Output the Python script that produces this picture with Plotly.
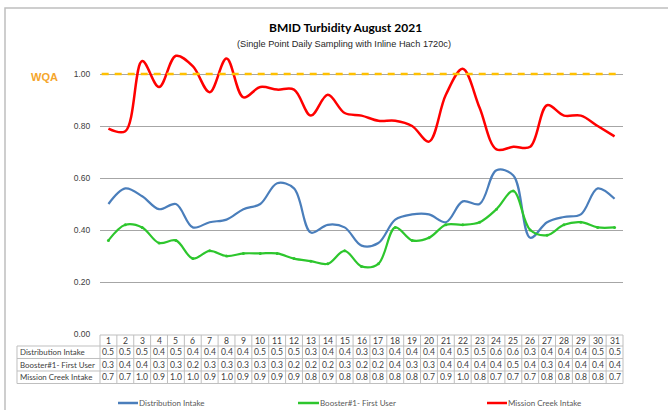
import math
import plotly.graph_objects as go

days = list(range(1, 32))
distribution = [0.50, 0.56, 0.53, 0.48, 0.50, 0.41, 0.43, 0.44, 0.48, 0.50,
                0.58, 0.56, 0.39, 0.42, 0.41, 0.34, 0.35, 0.44, 0.46, 0.46,
                0.43, 0.51, 0.50, 0.63, 0.61, 0.37, 0.43, 0.45, 0.46, 0.56, 0.52]
booster = [0.36, 0.42, 0.41, 0.35, 0.36, 0.29, 0.32, 0.30, 0.31, 0.31,
           0.31, 0.29, 0.28, 0.27, 0.32, 0.26, 0.27, 0.41, 0.36, 0.37,
           0.42, 0.42, 0.43, 0.48, 0.55, 0.40, 0.38, 0.42, 0.43, 0.41, 0.41]
mission = [0.79, 0.78, 1.05, 0.95, 1.07, 1.03, 0.93, 1.06, 0.91, 0.95,
           0.94, 0.94, 0.84, 0.92, 0.85, 0.84, 0.82, 0.82, 0.80, 0.74,
           0.92, 1.02, 0.87, 0.71, 0.72, 0.72, 0.88, 0.84, 0.84, 0.80, 0.76]
wqa_limit = 1.0
series_names = ["Distribution Intake", "Booster#1- First User", "Mission Creek Intake"]
y_ticks = [0.0, 0.2, 0.4, 0.6, 0.8, 1.0]

BLUE = "#4A7EBB"
GREEN = "#2DC62D"
RED = "#FF0000"
GOLD = "#FFC000"
GRID = "#A6A6A6"
TXT = "#404040"

# plot area in pixels
L, R, T, B = 100, 623, 48, 334
W, H = 668, 410


def px(xp):
    return (xp - L) / (R - L)


def py(yp):
    return (B - yp) / (B - T)


fig = go.Figure()

fig.add_trace(go.Scatter(x=days, y=distribution, mode="lines", name=series_names[0],
                         line=dict(color=BLUE, width=2.2, shape="spline", smoothing=1)))
fig.add_trace(go.Scatter(x=days, y=booster, mode="lines+markers", name=series_names[1],
                         line=dict(color=GREEN, width=2.2, shape="spline", smoothing=1),
                         marker=dict(size=3, color=GREEN)))
fig.add_trace(go.Scatter(x=days, y=mission, mode="lines", name=series_names[2],
                         line=dict(color=RED, width=2.5, shape="spline", smoothing=1)))
fig.add_trace(go.Scatter(x=[0.6, 31.3], y=[wqa_limit, wqa_limit], mode="lines",
                         line=dict(color=GOLD, width=2.5, dash="7px,6px"),
                         showlegend=False, hoverinfo="skip"))

shapes = []
annotations = []

# outer border
shapes.append(dict(type="rect", xref="paper", yref="paper",
                   x0=px(5), x1=px(720), y0=py(440), y1=py(8),
                   line=dict(color="#BFBFBF", width=1.5), layer="below"))

# table grid as one path
tcol = "#BFBFBF"
h_lines = [335, 346, 358.5, 371, 383.5]
cw = (R - L) / 31
segs = []
for i, yl in enumerate(h_lines):
    x0 = L if i == 0 else 17
    segs.append(f"M{px(x0):.5f},{py(yl):.5f} L{px(R):.5f},{py(yl):.5f}")
segs.append(f"M{px(17):.5f},{py(346):.5f} L{px(17):.5f},{py(383.5):.5f}")
for k in range(32):
    xl = L + k * cw
    segs.append(f"M{px(xl):.5f},{py(335):.5f} L{px(xl):.5f},{py(383.5):.5f}")
shapes.append(dict(type="path", xref="paper", yref="paper", path=" ".join(segs),
                   line=dict(color=tcol, width=1), layer="below"))

nfont = dict(family="Lato, Liberation Sans", size=8.6, color=TXT)
labfont = dict(family="Lato, Liberation Sans", size=7.9, color=TXT)
row_y = [340.5, 352.2, 364.8, 377.2]
for d in days:
    annotations.append(dict(x=d, y=py(row_y[0]), xref="x", yref="paper",
                            text=str(d), showarrow=False, font=nfont,
                            xanchor="center", yanchor="middle"))


def trunc(v):
    return f"{math.floor(v * 10 + 1e-6) / 10:.1f}"


for r, (name, vals) in enumerate(zip(series_names, [distribution, booster, mission])):
    yy = py(row_y[r + 1])
    annotations.append(dict(x=px(17.5), y=yy, xref="paper", yref="paper", text=name,
                            showarrow=False, xanchor="left", yanchor="middle", font=labfont))
    for d, v in zip(days, vals):
        annotations.append(dict(x=d, y=yy, xref="x", yref="paper", text=trunc(v),
                                showarrow=False, font=nfont,
                                xanchor="center", yanchor="middle"))

# legend
leg = [(118, 138, BLUE), (298, 319, GREEN), (487, 507, RED)]
lfont = dict(family="Lato, Liberation Sans", size=8, color="#595959")
for (a, b, c), name in zip(leg, series_names):
    shapes.append(dict(type="line", xref="paper", yref="paper",
                       x0=px(a), x1=px(b), y0=py(403), y1=py(403),
                       line=dict(color=c, width=2.5), layer="below"))
    annotations.append(dict(x=px(b - 1), y=py(403), xref="paper", yref="paper", text=name,
                            showarrow=False, xanchor="left", yanchor="middle", font=lfont))

# titles
annotations.append(dict(x=px(345), y=py(27), xref="paper", yref="paper",
                        text="<b>BMID Turbidity August 2021</b>", showarrow=False,
                        xanchor="center", yanchor="middle",
                        font=dict(family="Lato, Open Sans", size=12, color="#000000")))
annotations.append(dict(x=px(344), y=py(44), xref="paper", yref="paper",
                        text="(Single Point Daily Sampling with Inline Hach 1720c)", showarrow=False,
                        xanchor="center", yanchor="middle",
                        font=dict(family="Liberation Sans, Arial", size=9.2, color="#262626")))
annotations.append(dict(x=px(44), y=py(77), xref="paper", yref="paper",
                        text="<b>WQA</b>", showarrow=False,
                        xanchor="center", yanchor="middle",
                        font=dict(family="Liberation Sans, Arial", size=11, color="#F5A52A")))

fig.update_layout(
    width=W, height=H,
    margin=dict(l=L, r=W - R, t=T, b=H - B),
    paper_bgcolor="white", plot_bgcolor="white",
    showlegend=False,
    shapes=shapes, annotations=annotations,
    xaxis=dict(range=[0.5, 31.5], showgrid=False, showticklabels=False, zeroline=False,
               showline=False, ticks=""),
    yaxis=dict(range=[0, 1.1], tickvals=y_ticks, ticktext=[f"{v:.2f}" for v in y_ticks],
               showgrid=True, gridcolor=GRID, gridwidth=1, zeroline=False, showline=False,
               ticks="outside", ticklen=7, tickcolor="rgba(0,0,0,0)",
               tickfont=dict(family="Liberation Sans, Arial", size=8.5, color=TXT)),
)

fig.write_html("out.html", config={"displayModeBar": False},
               post_script="document.body.style.margin='0';")
